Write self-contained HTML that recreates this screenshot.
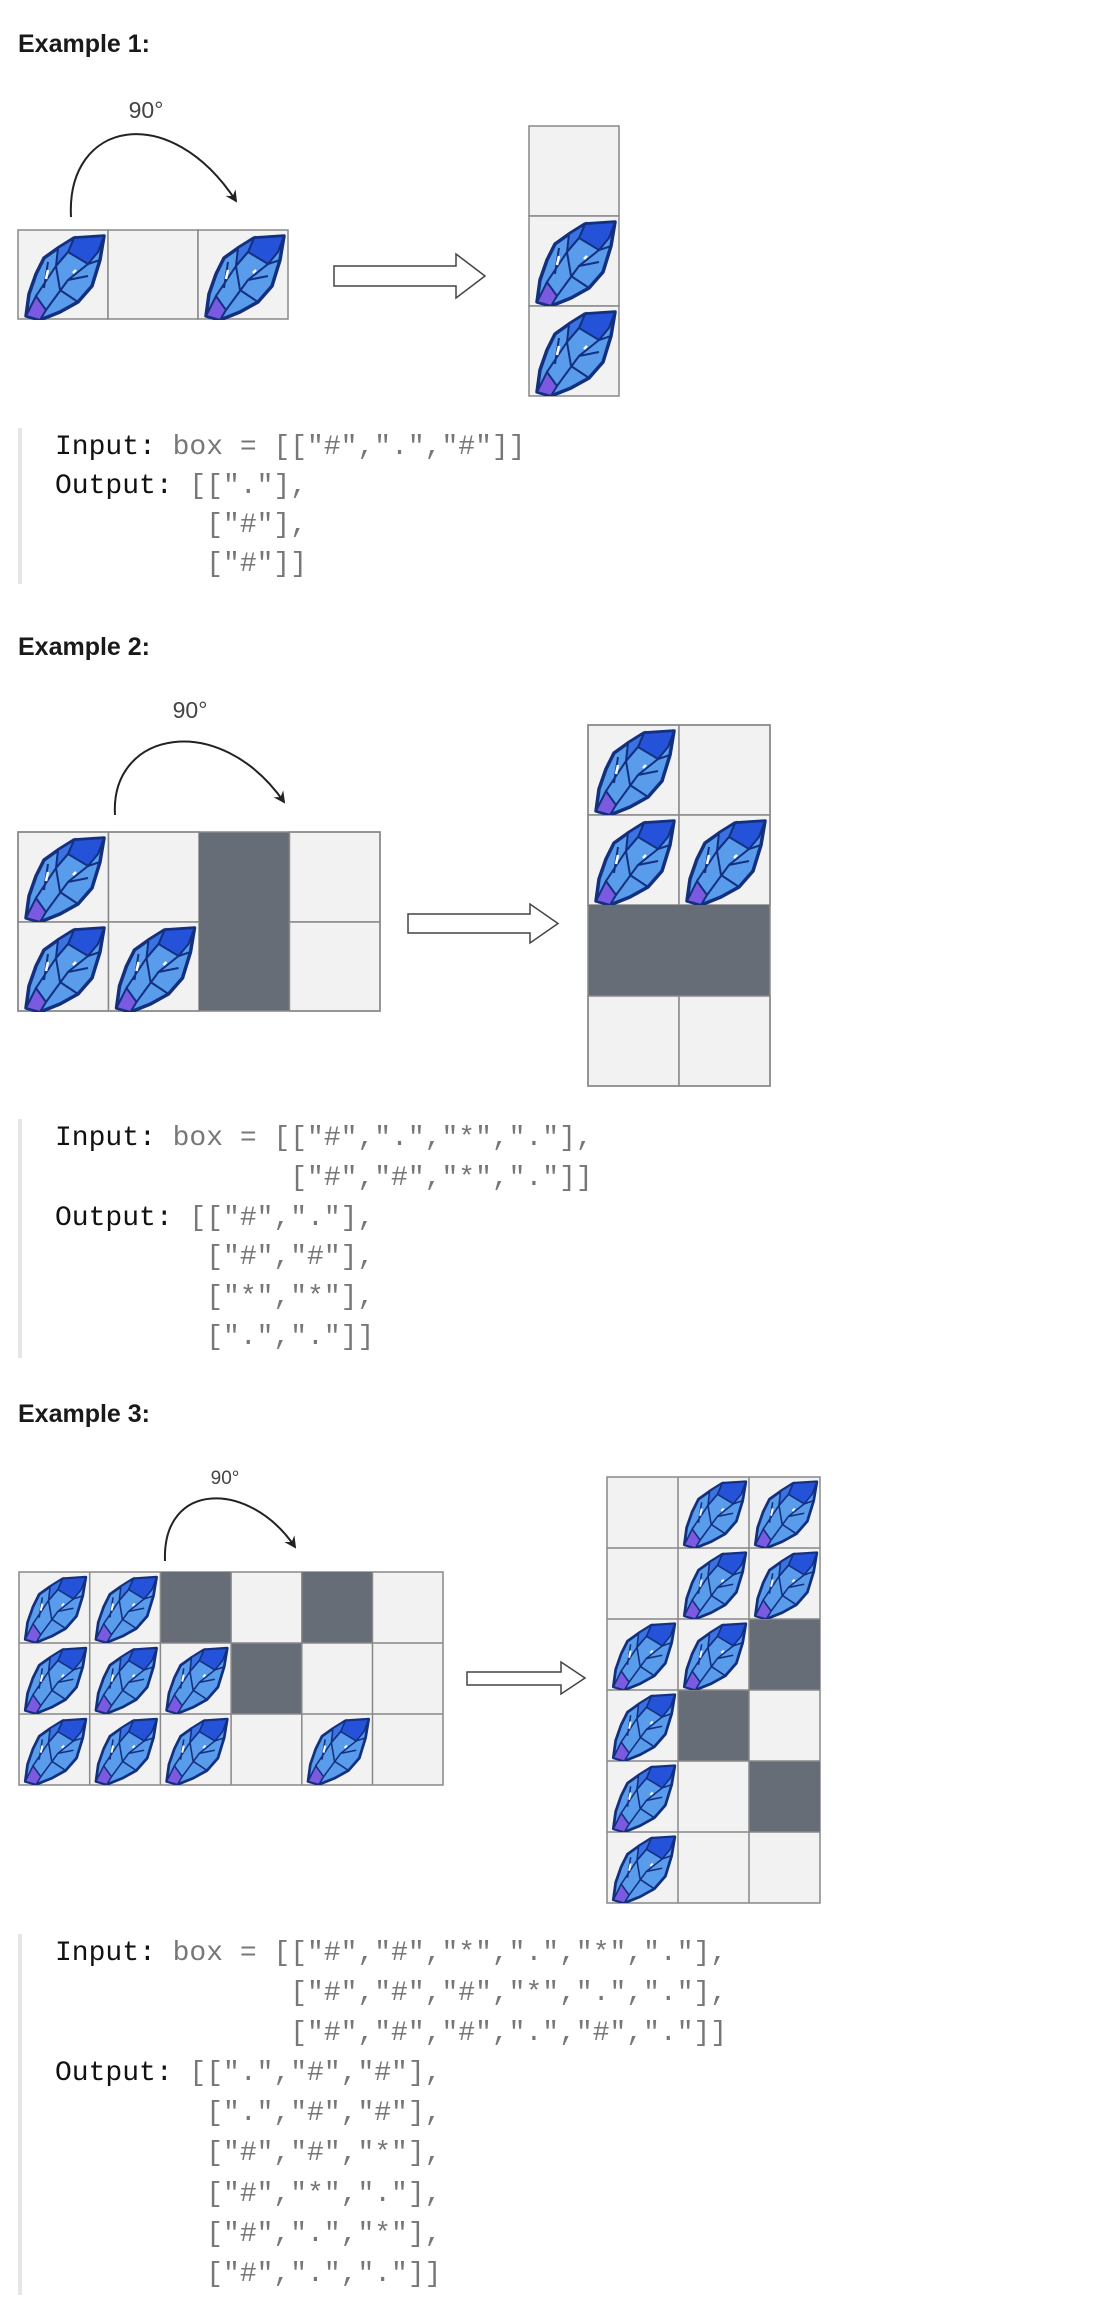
<!DOCTYPE html>
<html><head><meta charset="utf-8"><style>
body{margin:0;background:#fff;width:1108px;height:2310px;position:relative;overflow:hidden;font-family:"Liberation Sans",sans-serif}
.h{position:absolute;left:18px;font-weight:bold;font-size:25px;color:#1a1a1a}
.code{position:absolute;left:18px;border-left:4px solid #e6e6e6;padding-left:33px;font-family:"Liberation Mono",monospace;font-size:28px;white-space:pre;color:#777}
.code b{font-weight:normal;color:#111}
svg{position:absolute;left:0;top:0}
</style></head><body>
<svg width="1108" height="2310" viewBox="0 0 1108 2310">
<defs>
<symbol id="cr" viewBox="0 0 90 90">
<polygon points="8,86 11,64 18,44 26,28 40,18 56,8 86,6 82,30 74,56 60,72 42,82 22,90" fill="#5a9cec" stroke="#13307f" stroke-width="3.5" stroke-linejoin="round"/>
<polygon points="56,8 86,6 80,22 70,34 50,22" fill="#2452d8" stroke="#13307f" stroke-width="2"/>
<polygon points="40,18 56,8 50,22 38,36" fill="#3a72e4" stroke="#13307f" stroke-width="2"/>
<polygon points="8,86 18,66 28,80 22,90" fill="#7a5ae0" stroke="#13307f" stroke-width="2"/>
<path d="M18,66 L38,36 L50,22 M28,80 L50,50 L70,34 L82,30 M38,36 L42,60 M50,50 L70,46 M26,58 L30,32 M42,60 L60,72" fill="none" stroke="#13307f" stroke-width="2"/>
<path d="M30,40 l-2,9 M58,40 l-3,3" stroke="#fff" stroke-width="2.5"/>
</symbol>
<marker id="ah" markerWidth="12" markerHeight="12" refX="10" refY="6" orient="auto" markerUnits="userSpaceOnUse"><path d="M0,0 L12,6 L0,12 L4,6 Z" fill="#222"/></marker>
</defs>
<g stroke="#888" stroke-width="1.5">
<rect x="18" y="230" width="90" height="89" fill="#f2f2f2"/><rect x="108" y="230" width="90" height="89" fill="#f2f2f2"/><rect x="198" y="230" width="90" height="89" fill="#f2f2f2"/>
<rect x="529" y="126" width="90" height="90" fill="#f2f2f2"/><rect x="529" y="216" width="90" height="90" fill="#f2f2f2"/><rect x="529" y="306" width="90" height="90" fill="#f2f2f2"/>
<rect x="18" y="832" width="90.5" height="90" fill="#f2f2f2"/><rect x="108.5" y="832" width="90.5" height="90" fill="#f2f2f2"/><rect x="199" y="832" width="90.5" height="90" fill="#666d76" stroke="none"/><rect x="289.5" y="832" width="90.5" height="90" fill="#f2f2f2"/>
<rect x="18" y="922" width="90.5" height="89" fill="#f2f2f2"/><rect x="108.5" y="922" width="90.5" height="89" fill="#f2f2f2"/><rect x="199" y="922" width="90.5" height="89" fill="#666d76" stroke="none"/><rect x="289.5" y="922" width="90.5" height="89" fill="#f2f2f2"/>
<rect x="18" y="832" width="362" height="179" fill="none"/>
<rect x="588" y="725" width="91" height="90" fill="#f2f2f2"/><rect x="679" y="725" width="91" height="90" fill="#f2f2f2"/>
<rect x="588" y="815" width="91" height="90" fill="#f2f2f2"/><rect x="679" y="815" width="91" height="90" fill="#f2f2f2"/>
<rect x="588" y="905" width="182" height="91" fill="#666d76" stroke="none"/>
<rect x="588" y="996" width="91" height="90" fill="#f2f2f2"/><rect x="679" y="996" width="91" height="90" fill="#f2f2f2"/>
<rect x="588" y="725" width="182" height="361" fill="none"/>
</g>
<g stroke="#888" stroke-width="1.5">
<rect x="19" y="1572" width="424" height="213" fill="#f2f2f2"/>
<rect x="160.4" y="1572" width="70.7" height="71" fill="#666d76" stroke="none"/>
<rect x="301.8" y="1572" width="70.7" height="71" fill="#666d76" stroke="none"/>
<rect x="231.1" y="1643" width="70.7" height="71" fill="#666d76" stroke="none"/>
<path d="M89.7,1572V1785M160.4,1572V1785M231.1,1572V1785M301.8,1572V1785M372.5,1572V1785M19,1643H443M19,1714H443" fill="none"/>
<rect x="607" y="1477" width="213" height="426" fill="#f2f2f2"/>
<rect x="749" y="1619" width="71" height="71" fill="#666d76" stroke="none"/>
<rect x="678" y="1690" width="71" height="71" fill="#666d76" stroke="none"/>
<rect x="749" y="1761" width="71" height="71" fill="#666d76" stroke="none"/>
<path d="M678,1477V1903M749,1477V1903M607,1548H820M607,1619H820M607,1690H820M607,1761H820M607,1832H820" fill="none"/>
</g>
<use href="#cr" x="18" y="230" width="90" height="90"/><use href="#cr" x="198" y="230" width="90" height="90"/>
<use href="#cr" x="529" y="216" width="90" height="90"/><use href="#cr" x="529" y="306" width="90" height="90"/>
<use href="#cr" x="18" y="832" width="90" height="90"/><use href="#cr" x="18" y="922" width="90" height="90"/><use href="#cr" x="108.5" y="922" width="90" height="90"/>
<use href="#cr" x="588" y="725" width="90" height="90"/><use href="#cr" x="588" y="815" width="90" height="90"/><use href="#cr" x="679" y="815" width="90" height="90"/>
<use href="#cr" x="19" y="1572" width="70" height="71"/><use href="#cr" x="89.7" y="1572" width="70" height="71"/>
<use href="#cr" x="19" y="1643" width="70" height="71"/><use href="#cr" x="89.7" y="1643" width="70" height="71"/><use href="#cr" x="160.4" y="1643" width="70" height="71"/>
<use href="#cr" x="19" y="1714" width="70" height="71"/><use href="#cr" x="89.7" y="1714" width="70" height="71"/><use href="#cr" x="160.4" y="1714" width="70" height="71"/><use href="#cr" x="301.8" y="1714" width="70" height="71"/>
<use href="#cr" x="678" y="1477" width="71" height="71"/><use href="#cr" x="749" y="1477" width="71" height="71"/>
<use href="#cr" x="678" y="1548" width="71" height="71"/><use href="#cr" x="749" y="1548" width="71" height="71"/>
<use href="#cr" x="607" y="1619" width="71" height="71"/><use href="#cr" x="678" y="1619" width="71" height="71"/>
<use href="#cr" x="607" y="1690" width="71" height="71"/><use href="#cr" x="607" y="1761" width="71" height="71"/><use href="#cr" x="607" y="1832" width="71" height="71"/>
<g fill="none" stroke="#222" stroke-width="2" marker-end="url(#ah)">
<path d="M71,217 C66,120 170,100 236,201"/>
<path d="M115,815 C110,730 220,710 284,802"/>
<path d="M165,1561 C162,1480 250,1480 295,1547"/>
</g>
<g fill="#fff" stroke="#444" stroke-width="1.5">
<path d="M334,266 H456 V254 L485,276 L456,298 V286 H334 Z"/>
<path d="M408,914 H530 V904 L558,923.5 L530,943 V933 H408 Z"/>
<path d="M467,1672 H561 V1662 L585,1678 L561,1694 V1685 H467 Z"/>
</g>
<g font-family="Liberation Sans, sans-serif" fill="#444" text-anchor="middle">
<text x="146" y="118" font-size="23">90°</text>
<text x="190" y="718" font-size="23">90°</text>
<text x="225" y="1484" font-size="19">90°</text>
</g>
</svg>
<div class="h" style="top:30px">Example 1:</div>
<div class="h" style="top:633px">Example 2:</div>
<div class="h" style="top:1400px">Example 3:</div>
<div class="code" style="top:428px;line-height:39px"><b>Input:</b> box = [["#",".","#"]]
<b>Output:</b> [["."],
         ["#"],
         ["#"]]</div>
<div class="code" style="top:1119px;line-height:39.8px"><b>Input:</b> box = [["#",".","*","."],
              ["#","#","*","."]]
<b>Output:</b> [["#","."],
         ["#","#"],
         ["*","*"],
         [".","."]]</div>
<div class="code" style="top:1934px;line-height:40.1px"><b>Input:</b> box = [["#","#","*",".","*","."],
              ["#","#","#","*",".","."],
              ["#","#","#",".","#","."]]
<b>Output:</b> [[".","#","#"],
         [".","#","#"],
         ["#","#","*"],
         ["#","*","."],
         ["#",".","*"],
         ["#",".","."]]</div>
</body></html>
